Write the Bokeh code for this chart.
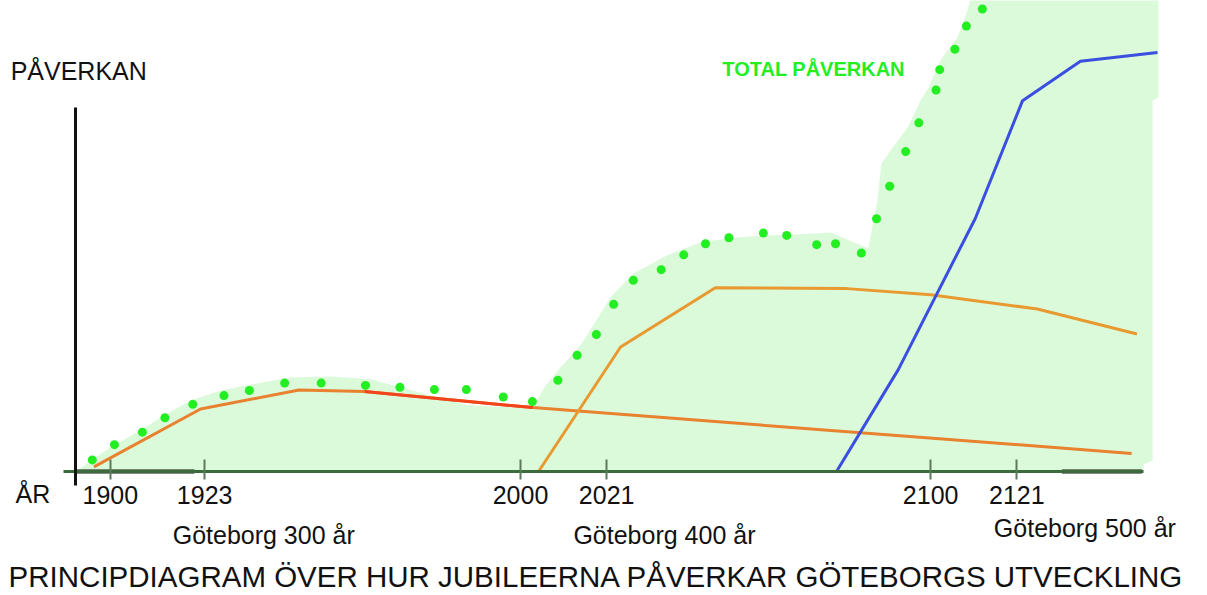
from bokeh.plotting import figure
from bokeh.models import Range1d, LinearAxis, FixedTicker
from bokeh.core.properties import value
from bokeh.embed import file_html
from bokeh.resources import INLINE

# ---- data (years, relative influence 0..100) ----
tick_years = [1900, 1923, 2000, 2021, 2100, 2121]

jub300_years = [1896, 1922, 1946, 1962, 2003, 2149]
jub300_vals = [1.0, 13.5, 17.6, 17.3, 13.8, 3.9]

jub400_years = [2004.4, 2024.4, 2047.5, 2079.6, 2100.0, 2126.0, 2150.3]
jub400_vals = [0.0, 26.9, 39.7, 39.5, 38.2, 35.1, 29.7]

jub500_years = [2077.2, 2092.1, 2110.9, 2122.4, 2136.5, 2155.3]
jub500_vals = [0.2, 22.0, 54.7, 80.1, 88.6, 90.5]

total_years = [1895.6, 1901.0, 1907.8, 1913.3, 1920.1, 1927.7, 1933.9, 1942.5,
               1951.4, 1962.2, 1970.6, 1979.0, 1986.8, 1995.8, 2002.9, 2009.1,
               2013.8, 2018.5, 2022.7, 2027.5, 2034.3, 2039.8, 2045.1, 2050.8,
               2059.2, 2064.9, 2072.2, 2076.8, 2083.1, 2086.8, 2090.0, 2093.9,
               2097.1, 2101.3, 2102.2, 2105.9, 2108.7, 2112.6]
total_vals = [2.5, 5.8, 8.5, 11.6, 14.5, 16.4, 17.5, 19.1,
              19.1, 18.6, 18.2, 17.7, 17.7, 16.1, 15.1, 19.7,
              25.1, 29.6, 36.1, 41.3, 43.6, 46.8, 49.2, 50.5,
              51.5, 51.0, 49.0, 49.2, 47.2, 54.6, 61.6, 69.1,
              75.3, 82.4, 86.8, 91.2, 96.2, 99.9]

area_years = [1891.8, 1895.2, 1900.0, 1907.4, 1913.5, 1919.5, 1926.9, 1934.2,
              1943.9, 1953.7, 1963.4, 1970.7, 1978.0, 1987.1, 2000.0, 2003.7,
              2006.1, 2009.8, 2014.6, 2019.5, 2021.9, 2027.6, 2035.8, 2043.9,
              2051.9, 2060.2, 2072.4, 2075.6, 2081.2, 2084.8, 2087.0, 2088.0,
              2090.2, 2094.4, 2097.5, 2099.5, 2102.4, 2106.5, 2109.0, 2109.7,
              2155.5, 2155.5, 2154.1, 2154.1, 2151.9, 2151.9]
area_vals = [0.0, 2.4, 5.2, 8.9, 12.3, 15.3, 17.5, 18.8,
             20.3, 20.5, 19.9, 18.2, 16.4, 14.3, 13.8, 14.9,
             18.6, 22.5, 27.2, 34.1, 37.6, 42.8, 46.7, 49.5,
             50.5, 51.0, 51.4, 51.6, 49.5, 48.2, 58.5, 66.5,
             69.3, 74.3, 80.1, 82.9, 88.8, 93.7, 99.6, 102.0,
             102.0, 80.8, 80.1, 2.4, 1.5, 0.0]

axis_black_start = [1891.5, 2132.0]
axis_black_end = [1920.5, 2151.5]

# ---- figure ----
p = figure(width=1207, height=595,
           x_range=Range1d(1873.22, 2167.49), y_range=Range1d(-26.78, 101.73),
           output_backend="svg", toolbar_location=None,
           x_axis_type=None, y_axis_type=None, min_border=0)
p.outline_line_color = None
p.background_fill_color = "white"

p.patch(area_years, area_vals, fill_color="#dafad9", line_color=None)

p.line(jub300_years, jub300_vals, line_color="#e8822e", line_width=3)
p.line(jub300_years[3:5], jub300_vals[3:5], line_color="#f2441c", line_width=3)
p.line(jub400_years, jub400_vals, line_color="#e89a30", line_width=3)
p.line(jub500_years, jub500_vals, line_color="#3a4fe0", line_width=3)

p.scatter(total_years, total_vals, size=9, fill_color="#22ee22", line_color=None)

# horizontal axis
xa = LinearAxis(fixed_location=0)
xa.ticker = FixedTicker(ticks=tick_years)
xa.bounds = (1888.6, 2151.9)
xa.axis_line_color = "#3b6a3b"
xa.axis_line_width = 3
xa.major_tick_line_color = "#5b7a5b"
xa.major_tick_line_width = 2
xa.major_tick_in = 12
xa.major_tick_out = 8
xa.minor_tick_line_color = None
xa.major_label_standoff = 6
xa.major_label_text_font = "Liberation Sans"
xa.major_label_text_font_size = "25px"
xa.major_label_text_color = "#111111"
p.add_layout(xa, "below")

p.segment(x0=axis_black_start, y0=[0, 0], x1=axis_black_end, y1=[0, 0],
          line_color="#111111", line_width=4)

# vertical axis
ya = LinearAxis(fixed_location=1891.5)
ya.bounds = (-3.0, 78.6)
ya.ticker = FixedTicker(ticks=[])
ya.axis_line_color = "#111111"
ya.axis_line_width = 3
ya.major_tick_line_color = None
ya.minor_tick_line_color = None
ya.major_label_text_font_size = "0px"
p.add_layout(ya, "left")

# texts
p.text(x=[1875.7, 1876.9], y=[86.6, -4.9], text=["PÅVERKAN", "ÅR"],
       text_font=value("Liberation Sans"), text_font_size="25px",
       text_color="#111111", text_baseline="alphabetic", text_align="left")
p.text(x=[1915.2, 2012.9, 2115.4], y=[-13.8, -13.8, -12.1],
       text=["Göteborg 300 år", "Göteborg 400 år", "Göteborg 500 år"],
       text_font=value("Liberation Sans"), text_font_size="25px",
       text_color="#111111", text_baseline="alphabetic", text_align="left")
p.text(x=[1875.2], y=[-22.7],
       text=["PRINCIPDIAGRAM ÖVER HUR JUBILEERNA PÅVERKAR GÖTEBORGS UTVECKLING"],
       text_font=value("Liberation Sans"), text_font_size="29.5px",
       text_color="#111111", text_baseline="alphabetic", text_align="left")
p.text(x=[2049.2], y=[87.0], text=["TOTAL PÅVERKAN"],
       text_font=value("Liberation Sans"), text_font_size="20px", text_font_style="bold",
       text_color="#22ee22", text_baseline="alphabetic", text_align="left")

open("out.html", "w").write(file_html(p, INLINE))
